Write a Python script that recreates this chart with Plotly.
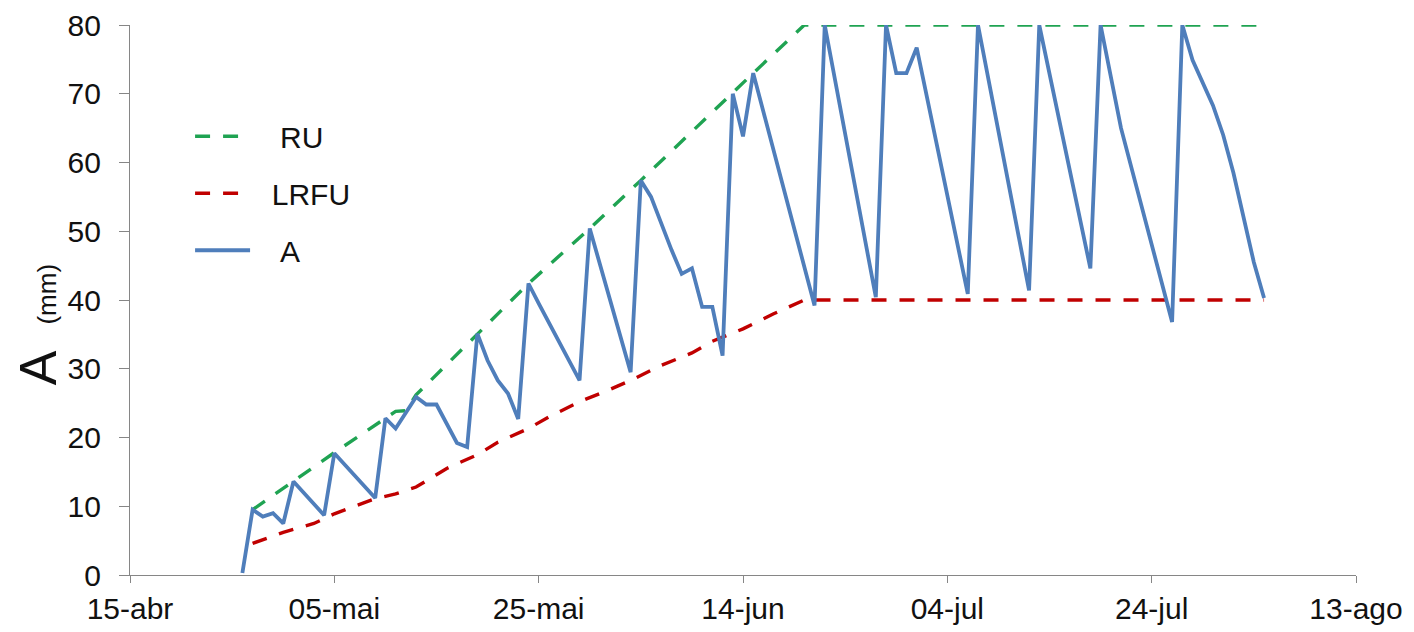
import datetime as dt
import plotly.graph_objects as go

BASE = dt.date(2013, 4, 15)

# Day offsets (from 15-abr) and values
ru_days = [12, 20, 26, 27, 28, 34, 39, 45, 50, 61, 66, 111]
ru_vals = [9.5, 17.8, 23.8, 23.9, 26.2, 35.1, 42.4, 50.4, 57.4, 73.0, 80.0, 80.0]

lrfu_days = [12, 15, 18, 20, 22, 24, 26, 28, 31, 34, 36, 39, 41, 44, 47, 49, 52, 55, 57, 60, 63, 66, 111]
lrfu_vals = [4.6, 6.2, 7.5, 8.9, 10.0, 11.1, 11.8, 12.8, 15.5, 17.5, 19.3, 21.3, 23.0, 25.2, 27.0, 28.3,
             30.5, 32.3, 34.0, 35.8, 38.0, 40.0, 40.0]

a_days = [11, 12, 13, 14, 15, 16, 19, 20, 24, 25, 26, 27, 28, 29, 30, 32, 33, 34, 35, 36, 37, 38,
          39, 40, 44, 45, 49, 50, 51, 53, 54, 55, 56, 57, 58, 59, 60, 61, 63, 67, 68, 73, 74, 75,
          76, 77, 82, 83, 88, 89, 94, 95, 97, 102, 103, 104, 106, 107, 108, 109, 110, 111]
a_vals = [0.3, 9.5, 8.5, 9.0, 7.5, 13.6, 8.7, 17.7, 11.2, 22.8, 21.3, 23.7, 25.9, 24.8, 24.8, 19.2,
          18.6, 35.1, 31.2, 28.3, 26.4, 22.7, 42.4, 39.5, 28.3, 50.4, 29.5, 57.4, 55.0, 47.3, 43.8,
          44.6, 39.0, 39.0, 31.9, 70.0, 63.8, 73.0, 61.8, 39.2, 80.0, 40.4, 80.0, 73.0, 73.0, 76.7,
          40.9, 80.0, 41.4, 80.0, 44.6, 80.0, 65.0, 36.8, 80.0, 74.9, 68.3, 64.0, 58.5, 52.0, 45.5, 40.3]

tick_days = [0, 20, 40, 60, 80, 100, 120]
tick_labels = ["15-abr", "05-mai", "25-mai", "14-jun", "04-jul", "24-jul", "13-ago"]
y_ticks = [0, 10, 20, 30, 40, 50, 60, 70, 80]


def to_dates(days):
    return [BASE + dt.timedelta(days=d) for d in days]


FONT = "Liberation Sans, Arial, sans-serif"
AXIS_COLOR = "#868686"
TXT = "#111111"
NB = "\u00a0"

fig = go.Figure()
fig.add_trace(go.Scatter(x=to_dates(ru_days), y=ru_vals, mode="lines", name=NB * 3 + "RU",
                         legendgroup="ru",
                         line=dict(color="#1FA352", width=3.4, dash="15px,13px")))
fig.add_trace(go.Scatter(x=to_dates(lrfu_days), y=lrfu_vals, mode="lines", name=NB * 2 + "LRFU",
                         legendgroup="lrfu",
                         line=dict(color="#C00000", width=3.4, dash="15px,13px")))
fig.add_trace(go.Scatter(x=to_dates(a_days), y=a_vals, mode="lines", name=NB * 3 + "A",
                         legendgroup="a",
                         line=dict(color="#4F7EBB", width=3.8)))

fig.update_layout(
    width=1414, height=632,
    margin=dict(l=122, r=66, t=17, b=65),
    paper_bgcolor="white", plot_bgcolor="white",
    font=dict(family=FONT, color=TXT, size=30),
    showlegend=True,
    legend=dict(x=0.049, y=0.845, xanchor="left", yanchor="top",
                font=dict(size=30, family=FONT, color=TXT),
                bgcolor="rgba(0,0,0,0)", itemwidth=55,
                traceorder="grouped", tracegroupgap=15),
    xaxis=dict(
        type="date", automargin=False,
        range=[BASE, BASE + dt.timedelta(days=120)],
        tickvals=to_dates(tick_days), ticktext=tick_labels,
        showgrid=False, zeroline=False,
        showline=True, linecolor=AXIS_COLOR, linewidth=1.3,
        ticks="outside", ticklen=7, tickcolor=AXIS_COLOR, tickwidth=1.3,
        tickfont=dict(size=30, family=FONT, color=TXT),
    ),
    yaxis=dict(
        range=[0, 80], tickvals=y_ticks, automargin=False,
        showgrid=False, zeroline=False,
        showline=True, linecolor=AXIS_COLOR, linewidth=1.3,
        ticks="outside", ticklen=10, tickcolor=AXIS_COLOR, tickwidth=1.3,
        tickfont=dict(size=30, family=FONT, color=TXT),
        ticklabelstandoff=12,
    ),
    annotations=[dict(
        xref="paper", yref="paper", x=0, y=0.454, xanchor="center", yanchor="middle",
        xshift=-92, textangle=-90, showarrow=False,
        text="A <span style='font-size:26px'>" + NB * 2 + "(mm)</span>",
        font=dict(size=52, family=FONT, color=TXT),
    )],
)

fig.write_html("out.html")
